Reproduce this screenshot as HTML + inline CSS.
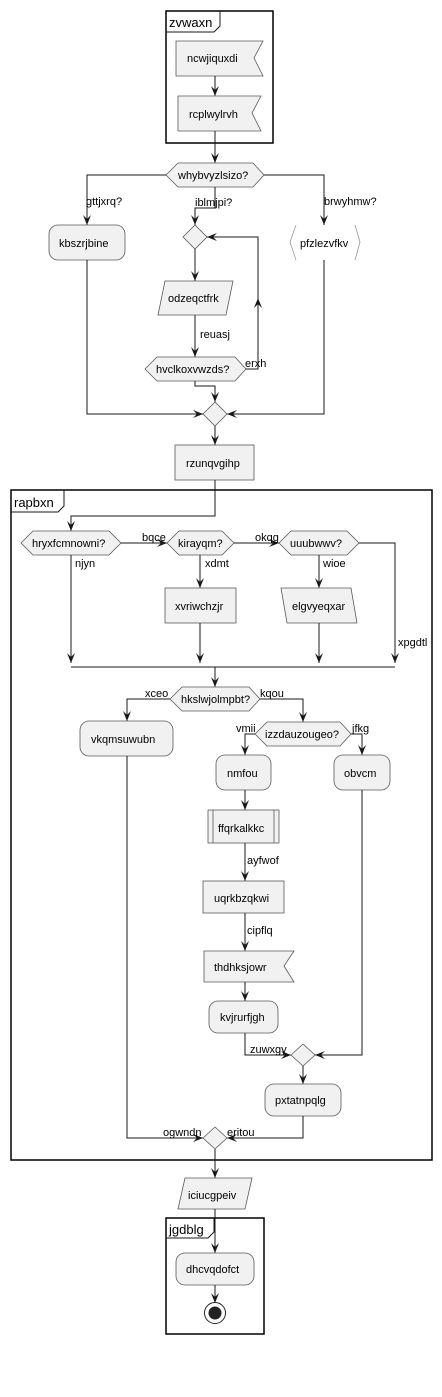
<!DOCTYPE html>
<html><head><meta charset="utf-8"><style>
html,body{margin:0;padding:0;background:#fff}
svg{display:block}
text{font-family:"Liberation Sans",sans-serif;font-size:11px;fill:#000}
.n{fill:#F1F1F1;stroke:#5a5a5a;stroke-width:0.8}
.l{fill:none;stroke:#181818;stroke-width:1}
.f{fill:none;stroke:#000;stroke-width:1.5}
.ft{font-size:13px}
</style></head><body>
<svg width="442" height="1397" viewBox="0 0 442 1397" xmlns="http://www.w3.org/2000/svg">
<defs><marker id="a" viewBox="0 0 10 8" refX="10" refY="4" markerWidth="10" markerHeight="8" markerUnits="userSpaceOnUse" orient="auto"><path d="M0,0 L10,4 L0,8 L4,4 z" fill="#181818"/></marker></defs>

<rect class="f" x="166" y="11" width="107" height="132"/>
<path class="l" d="M166,32 H214 L220,26 V11"/>
<text class="ft" x="169" y="27">zvwaxn</text>
<path class="n" d="M176,41 H263 L254,58 L263,76 H176 Z"/>
<text x="187" y="62">ncwjiquxdi</text>
<path class="l" marker-end="url(#a)" d="M215,76 V96"/>
<path class="n" d="M178,96 H261 L252,113 L261,131 H178 Z"/>
<text x="189" y="118">rcplwylrvh</text>
<path class="l" marker-end="url(#a)" d="M215,131 V163"/>

<path class="n" d="M166,175 L178,163 H253 L264,175 L253,187 H178 Z"/>
<text x="178" y="179">whybvyzlsizo?</text>
<path class="l" marker-end="url(#a)" d="M166,175 H87 V225"/>
<text x="86" y="205">gttjxrq?</text>
<rect class="n" x="49" y="225" width="76" height="35" rx="9"/>
<text x="59" y="247">kbszrjbine</text>
<path class="l" marker-end="url(#a)" d="M215,187 V208 H195 V225"/>
<text x="195" y="206">iblmjpi?</text>
<path class="l" marker-end="url(#a)" d="M264,175 H324 V225"/>
<text x="324" y="205">brwyhmw?</text>
<path d="M296,225 L290,242 L296,260 M355,225 L360,242 L355,260" fill="none" stroke="#999" stroke-width="0.8"/>
<text x="300" y="247">pfzlezvfkv</text>

<path class="n" d="M183,237 L195,225 L207,237 L195,249 Z"/>
<path class="l" marker-end="url(#a)" d="M195,249 V281"/>
<path class="n" d="M165,281 H233 L226,315 H158 Z"/>
<text x="168" y="302">odzeqctfrk</text>
<path class="l" marker-end="url(#a)" d="M195,315 V357"/>
<text x="200" y="338">reuasj</text>
<path class="n" d="M145,369 L157,357 H235 L246,369 L235,381 H157 Z"/>
<text x="156" y="373">hvclkoxvwzds?</text>
<path class="l" marker-end="url(#a)" d="M246,369 H258 V237 H207"/>
<path class="l" marker-end="url(#a)" d="M258,320 V298"/>
<text x="245" y="367">erxh</text>
<path class="l" marker-end="url(#a)" d="M195,381 V386 H215 V402"/>
<path class="n" d="M203,414 L215,402 L227,414 L215,426 Z"/>
<path class="l" marker-end="url(#a)" d="M87,260 V414 H203"/>
<path class="l" marker-end="url(#a)" d="M324,260 V414 H227"/>
<path class="l" marker-end="url(#a)" d="M215,426 V445"/>
<rect class="n" x="175" y="445" width="79" height="35"/>
<text x="186" y="467">rzunqvgihp</text>

<rect class="f" x="11" y="490" width="421" height="670"/>
<path class="l" d="M11,512 H58 L64,506 V490"/>
<text class="ft" x="14" y="507">rapbxn</text>
<path class="l" marker-end="url(#a)" d="M215,480 V516 H71 V531"/>
<path class="n" d="M21,543 L33,531 H109 L121,543 L109,555 H33 Z"/>
<text x="32" y="547">hryxfcmnowni?</text>
<path class="l" marker-end="url(#a)" d="M121,543 H167"/>
<text x="142" y="541">bqce</text>
<path class="n" d="M167,543 L179,531 H222 L234,543 L222,555 H179 Z"/>
<text x="178" y="547">kirayqm?</text>
<path class="l" marker-end="url(#a)" d="M234,543 H279"/>
<text x="255" y="541">okqg</text>
<path class="n" d="M279,543 L291,531 H347 L359,543 L347,555 H291 Z"/>
<text x="290" y="547">uuubwwv?</text>
<path class="l" marker-end="url(#a)" d="M71,555 V663"/>
<text x="75" y="567">njyn</text>
<path class="l" marker-end="url(#a)" d="M200,555 V588"/>
<text x="205" y="567">xdmt</text>
<rect class="n" x="165" y="588" width="71" height="35"/>
<text x="175" y="610">xvriwchzjr</text>
<path class="l" marker-end="url(#a)" d="M200,623 V663"/>
<path class="l" marker-end="url(#a)" d="M319,555 V588"/>
<text x="323" y="567">wioe</text>
<path class="n" d="M281,588 H351 L357,623 H287 Z"/>
<text x="292" y="610">elgvyeqxar</text>
<path class="l" marker-end="url(#a)" d="M319,623 V663"/>
<path class="l" marker-end="url(#a)" d="M359,543 H395 V663"/>
<text x="398" y="646">xpgdtl</text>
<path class="l" d="M71,667 H395"/>
<path class="l" marker-end="url(#a)" d="M215,667 V687"/>
<path class="n" d="M170,699 L182,687 H249 L260,699 L249,711 H182 Z"/>
<text x="181" y="703">hkslwjolmpbt?</text>
<path class="l" marker-end="url(#a)" d="M170,699 H127 V721"/>
<text x="145" y="697">xceo</text>
<rect class="n" x="80" y="721" width="93" height="35" rx="9"/>
<text x="91" y="743">vkqmsuwubn</text>
<path class="l" marker-end="url(#a)" d="M260,699 H303 V722"/>
<text x="260" y="697">kqou</text>
<path class="n" d="M255,734 L267,722 H340 L351,734 L340,746 H267 Z"/>
<text x="265" y="738">izzdauzougeo?</text>
<path class="l" marker-end="url(#a)" d="M255,734 H245 V755"/>
<text x="236" y="732">vmii</text>
<path class="l" marker-end="url(#a)" d="M351,734 H362 V755"/>
<text x="352" y="732">jfkg</text>
<rect class="n" x="216" y="755" width="55" height="35" rx="9"/>
<text x="227" y="777">nmfou</text>
<rect class="n" x="334" y="755" width="56" height="35" rx="9"/>
<text x="344" y="777">obvcm</text>
<path class="l" marker-end="url(#a)" d="M245,790 V810"/>
<rect class="n" x="208" y="810" width="71" height="33"/>
<path class="n" d="M213,810 V843 M274,810 V843"/>
<text x="218" y="832">ffqrkalkkc</text>
<path class="l" marker-end="url(#a)" d="M245,843 V881"/>
<text x="247" y="864">ayfwof</text>
<rect class="n" x="203" y="881" width="81" height="32"/>
<text x="214" y="902">uqrkbzqkwi</text>
<path class="l" marker-end="url(#a)" d="M245,913 V951"/>
<text x="247" y="934">cipflq</text>
<path class="n" d="M204,951 H294 L284,966 L294,982 H204 Z"/>
<text x="214" y="971">thdhksjowr</text>
<path class="l" marker-end="url(#a)" d="M245,982 V1001"/>
<rect class="n" x="209" y="1001" width="69" height="32" rx="9"/>
<text x="220" y="1021">kvjrurfjgh</text>
<path class="l" marker-end="url(#a)" d="M245,1033 V1055 H291"/>
<text x="250" y="1053">zuwxgy</text>
<path class="n" d="M291,1055 L303,1044 L315,1055 L303,1066 Z"/>
<path class="l" marker-end="url(#a)" d="M362,790 V1055 H315"/>
<path class="l" marker-end="url(#a)" d="M303,1066 V1084"/>
<rect class="n" x="265" y="1084" width="76" height="32" rx="9"/>
<text x="275" y="1104">pxtatnpqlg</text>
<path class="l" marker-end="url(#a)" d="M303,1116 V1138 H227"/>
<text x="227" y="1136">eritou</text>
<path class="l" marker-end="url(#a)" d="M127,756 V1138 H203"/>
<text x="163" y="1136">ogwndn</text>
<path class="n" d="M203,1138 L215,1127 L227,1138 L215,1149 Z"/>
<path class="l" marker-end="url(#a)" d="M215,1149 V1178"/>
<path class="n" d="M185,1178 H252 L245,1209 H178 Z"/>
<text x="188" y="1199">iciucgpeiv</text>

<rect class="f" x="166" y="1218" width="98" height="116"/>
<path class="l" d="M166,1238 H208 L214,1232 V1218"/>
<text class="ft" x="169" y="1234">jgdblg</text>
<path class="l" marker-end="url(#a)" d="M215,1209 V1253"/>
<rect class="n" x="176" y="1253" width="78" height="32" rx="9"/>
<text x="186" y="1273">dhcvqdofct</text>
<path class="l" marker-end="url(#a)" d="M215,1285 V1303"/>
<circle cx="215" cy="1313" r="10.5" fill="#fff" stroke="#222" stroke-width="1"/>
<circle cx="215" cy="1313" r="6.5" fill="#222"/>
</svg>
</body></html>
